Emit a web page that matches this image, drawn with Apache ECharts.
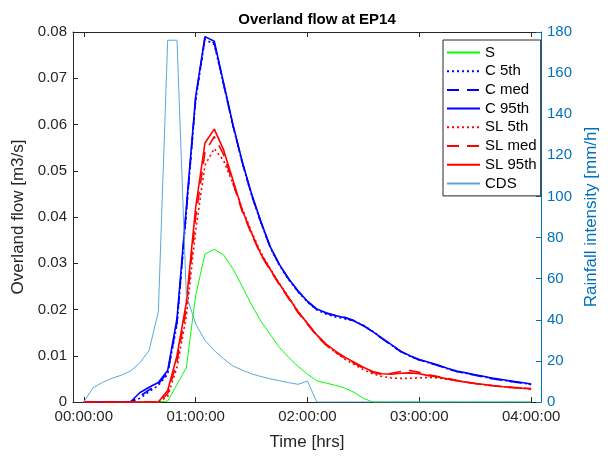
<!DOCTYPE html>
<html>
<head>
<meta charset="utf-8">
<script src="https://cdn.jsdelivr.net/npm/echarts@6/dist/echarts.min.js"></script>
<style>
  html, body { margin: 0; padding: 0; background: #fff; }
  #chart { width: 608px; height: 456px; }
</style>
</head>
<body>
<div id="chart"></div>
<script>
// time in minutes, 5 min steps
var times = [];
for (var i = 0; i <= 240; i += 5) times.push(i);

var hourTicks = [0, 60, 120, 180, 240];

var sFlow = [0, 0, 0, 0, 0, 0, 0, 0, 0,
  0.0002, 0.0038, 0.0074, 0.023, 0.032, 0.033, 0.0318, 0.0288, 0.025, 0.021, 0.0175,
  0.0146, 0.0118, 0.0096, 0.0077, 0.006, 0.0046, 0.0041, 0.0036, 0.003, 0.0021, 0.0008, 0,
  0, 0, 0, 0, 0, 0, 0, 0, 0, 0, 0, 0, 0, 0, 0, 0, 0];

var c5th = [0, 0, 0, 0, 0, 0,
  0.0008, 0.0022, 0.0036, 0.006, 0.0168, 0.0408, 0.0652, 0.0784, 0.0773, 0.0686, 0.0597, 0.0517,
  0.0447, 0.0388, 0.0334, 0.0295, 0.0264, 0.0238, 0.0216, 0.0199, 0.019, 0.0184, 0.018, 0.0175,
  0.0166, 0.0153, 0.0138, 0.0123, 0.0109, 0.0099, 0.0091, 0.0085, 0.0079, 0.0072, 0.0066, 0.0062,
  0.0058, 0.0054, 0.005, 0.0047, 0.0044, 0.0041, 0.0038];

var cMed = [0, 0, 0, 0, 0, 0,
  0.0012, 0.0026, 0.0039, 0.0064, 0.0172, 0.0412, 0.0655, 0.0787, 0.0776, 0.0688, 0.0598, 0.0518,
  0.0448, 0.0389, 0.0335, 0.0296, 0.0265, 0.0239, 0.0217, 0.02, 0.0192, 0.0187, 0.0183, 0.0176,
  0.0165, 0.0152, 0.0137, 0.0123, 0.0109, 0.0099, 0.0091, 0.0085, 0.0079, 0.0072, 0.0066, 0.0062,
  0.0058, 0.0054, 0.005, 0.0047, 0.0044, 0.0041, 0.0038];

var c95th = [0, 0, 0, 0, 0, 0,
  0.002, 0.0032, 0.0042, 0.0068, 0.018, 0.042, 0.066, 0.079, 0.078, 0.069, 0.06, 0.052,
  0.045, 0.039, 0.0336, 0.0297, 0.0266, 0.024, 0.0218, 0.0201, 0.0193, 0.0187, 0.0182, 0.0175,
  0.0165, 0.0152, 0.0138, 0.0124, 0.011, 0.01, 0.0092, 0.0086, 0.008, 0.0073, 0.0067, 0.0063,
  0.0059, 0.0055, 0.0051, 0.0048, 0.0045, 0.0042, 0.0039];

var sl5th = [0, 0, 0, 0, 0, 0, 0, 0, 0,
  0.0012, 0.0075, 0.0185, 0.037, 0.0512, 0.0548, 0.0522, 0.0472, 0.0418, 0.0368, 0.0323,
  0.0288, 0.0256, 0.0226, 0.0196, 0.017, 0.0144, 0.0123, 0.0107, 0.0093, 0.0081, 0.007, 0.0061,
  0.0055, 0.0052, 0.0051, 0.0051, 0.0052, 0.0053, 0.0052, 0.0049, 0.0046, 0.0043, 0.004, 0.0037,
  0.0035, 0.0033, 0.0031, 0.003, 0.0028];

var slMed = [0, 0, 0, 0, 0, 0, 0, 0, 0,
  0.0018, 0.0088, 0.0202, 0.04, 0.054, 0.0574, 0.0535, 0.0474, 0.0412, 0.0363, 0.0318,
  0.0285, 0.0253, 0.0223, 0.0193, 0.0168, 0.0143, 0.0123, 0.0108, 0.0095, 0.0084, 0.0073, 0.0064,
  0.006, 0.0062, 0.0066, 0.0068, 0.0064, 0.0059, 0.0055, 0.0051, 0.0047, 0.0043, 0.004, 0.0037,
  0.0035, 0.0033, 0.0031, 0.003, 0.0028];

var sl95th = [0, 0, 0, 0, 0, 0, 0, 0, 0,
  0.0025, 0.01, 0.0215, 0.042, 0.056, 0.059, 0.0545, 0.048, 0.0415, 0.0365, 0.032,
  0.0287, 0.0255, 0.0225, 0.0195, 0.017, 0.0145, 0.0125, 0.011, 0.0097, 0.0086, 0.0075, 0.0066,
  0.0061, 0.006, 0.0062, 0.0063, 0.0061, 0.0057, 0.0054, 0.005, 0.0046, 0.0043, 0.004, 0.0038,
  0.0035, 0.0033, 0.0032, 0.003, 0.0029];

// rainfall intensity [mm/h]
var cds = [0, 7, 9.5, 11.5, 13, 15, 19, 25, 44, 176, 176, 52, 38, 30, 25, 21, 17.5, 15.5,
  13.7, 12.4, 11.3, 10.3, 9.4, 8.6, 10.2, 0,
  0, 0, 0, 0, 0, 0, 0, 0, 0, 0, 0, 0, 0, 0, 0, 0, 0, 0, 0, 0, 0, 0, 0];

function pairs(vals) {
  return times.map(function (t, k) { return [t, vals[k]]; });
}
function pad(n) { return (n < 10 ? '0' : '') + n; }
function hms(m) {
  return pad(Math.floor(m / 60)) + ':' + pad(m % 60) + ':00';
}

var font = "'Liberation Sans', Arial, Helvetica, sans-serif";
var axisColor = '#262626';
var rightColor = '#0072BD';

function lineSeries(name, vals, color, type, width) {
  return {
    name: name,
    type: 'line',
    data: pairs(vals),
    symbol: 'none',
    animation: false,
    lineStyle: { color: color, type: type, width: width },
    itemStyle: { color: color }
  };
}

var myChart = echarts.init(document.getElementById('chart'));
var option = {
  backgroundColor: '#fff',
  animation: false,
  title: {
    text: 'Overland flow at EP14',
    left: 312,
    textAlign: 'center',
    top: 7,
    textStyle: { fontFamily: font, fontSize: 15, fontWeight: 'bold', color: '#000' }
  },
  grid: { left: 73, right: 60, top: 32, bottom: 48 },
  legend: {
    orient: 'vertical',
    left: 443,
    top: 40,
    padding: [5, 4, 5, 3],
    itemWidth: 33,
    itemHeight: 12,
    itemGap: 3.7,
    backgroundColor: '#fff',
    borderColor: axisColor,
    borderWidth: 1,
    borderRadius: 0,
    itemStyle: { opacity: 0 },
    textStyle: { fontFamily: font, fontSize: 15, color: '#000' },
    data: ['S', 'C 5th', 'C med', 'C 95th', 'SL 5th', 'SL med', 'SL 95th', 'CDS']
  },
  xAxis: [
    {
      type: 'value',
      min: -5.8,
      max: 245.3,
      name: 'Time [hrs]',
      nameLocation: 'middle',
      nameGap: 32,
      nameTextStyle: { fontFamily: font, fontSize: 17, color: axisColor },
      axisLine: { onZero: false, lineStyle: { color: axisColor } },
      axisTick: { inside: true, length: 5, customValues: hourTicks, lineStyle: { color: axisColor } },
      axisLabel: {
        customValues: hourTicks,
        formatter: function (v) { return hms(v); },
        fontFamily: font, fontSize: 15, color: axisColor, margin: 7
      },
      splitLine: { show: false }
    },
    {
      type: 'value',
      position: 'top',
      min: -5.8,
      max: 245.3,
      axisLine: { show: true, onZero: false, lineStyle: { color: axisColor } },
      axisTick: { inside: true, length: 5, customValues: hourTicks, lineStyle: { color: axisColor } },
      axisLabel: { show: false },
      splitLine: { show: false }
    }
  ],
  yAxis: [
    {
      type: 'value',
      min: 0,
      max: 0.08,
      interval: 0.01,
      name: 'Overland flow [m3/s]',
      nameLocation: 'middle',
      nameGap: 41,
      nameTextStyle: { fontFamily: font, fontSize: 17, color: axisColor },
      axisLine: { show: true, onZero: false, lineStyle: { color: axisColor } },
      axisTick: { show: true, inside: true, length: 5, lineStyle: { color: axisColor } },
      axisLabel: {
        fontFamily: font, fontSize: 15, color: axisColor, margin: 6,
        formatter: function (v) { return v === 0 ? '0' : String(+v.toFixed(2)); }
      },
      splitLine: { show: false }
    },
    {
      type: 'value',
      min: 0,
      max: 180,
      interval: 20,
      position: 'right',
      name: 'Rainfall intensity [mm/h]',
      nameLocation: 'middle',
      nameGap: 42,
      nameTextStyle: { fontFamily: font, fontSize: 17, color: rightColor },
      axisLine: { show: true, onZero: false, lineStyle: { color: rightColor } },
      axisTick: { show: true, inside: true, length: 5, lineStyle: { color: rightColor } },
      axisLabel: { fontFamily: font, fontSize: 15, color: rightColor, margin: 6 },
      splitLine: { show: false }
    }
  ],
  series: [
    lineSeries('S', sFlow, '#00FF00', 'solid', 1),
    lineSeries('C 5th', c5th, '#0000FF', [2, 3], 1.6),
    lineSeries('C med', cMed, '#0000FF', [12, 8], 1.6),
    lineSeries('C 95th', c95th, '#0000FF', 'solid', 1.6),
    lineSeries('SL 5th', sl5th, '#FF0000', [2, 3], 1.6),
    lineSeries('SL med', slMed, '#FF0000', [12, 8], 1.6),
    lineSeries('SL 95th', sl95th, '#FF0000', 'solid', 1.6),
    Object.assign(lineSeries('CDS', cds, '#5BA7DA', 'solid', 1), { yAxisIndex: 1 })
  ]
};
myChart.setOption(option);
</script>
</body>
</html>
